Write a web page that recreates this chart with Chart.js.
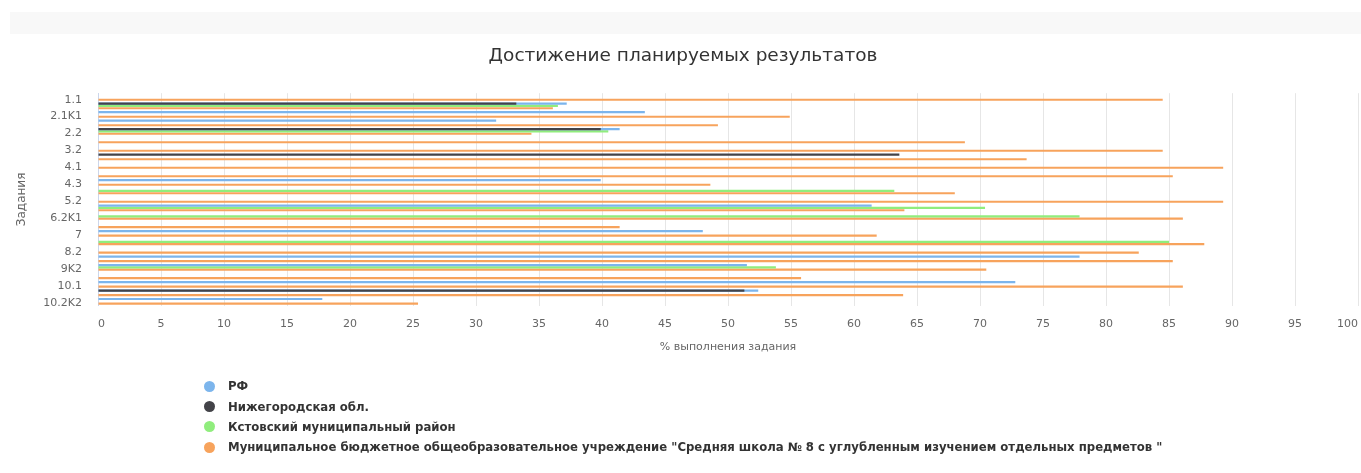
<!DOCTYPE html>
<html><head><meta charset="utf-8">
<script src="https://cdn.jsdelivr.net/npm/chart.js@4"></script>
<style>
html,body{margin:0;padding:0;background:#fff;}
#wrap{position:relative;width:1361px;height:473px;overflow:hidden;font-family:"DejaVu Sans",sans-serif;}
#topbar{position:absolute;left:10px;top:12px;width:1351px;height:22px;background:#f8f8f8;}
#c{position:absolute;left:0;top:0;}
#legend{position:absolute;left:204px;top:376px;}
.li{height:20.4px;font-size:11.7px;font-weight:bold;color:#333;white-space:nowrap;display:flex;align-items:center;}
.dot{width:11px;height:11px;border-radius:50%;margin-right:13px;flex:none;}
</style></head><body>
<div id="wrap"><div id="topbar"></div><canvas id="c" width="1361" height="473"></canvas><div id="legend"></div></div>
<script>
const chartTitle = 'Достижение планируемых результатов';
const xAxisTitle = '% выполнения задания';
const yAxisTitle = 'Задания';
const categories = ['1.1','1.2','2.1K1','2.1K2','2.2','3.1','3.2','3.3','4.1','4.2','4.3','5.1','5.2','6.1','6.2K1','6.2K2','7','8.1','8.2','9K1','9K2','9K3','10.1','10.2K1','10.2K2'];
const shownYLabels = ['1.1','2.1K1','2.2','3.2','4.1','4.3','5.2','6.2K1','7','8.2','9K2','10.1','10.2K2'];
const seriesNames = ['РФ','Нижегородская обл.','Кстовский муниципальный район','Муниципальное бюджетное общеобразовательное учреждение "Средняя школа № 8 с углубленным изучением отдельных предметов "'];
const seriesColors = ['#7cb5ec','#434348','#90ed7d','#f7a35c'];
const rfValues     = [null,37.2,43.4,31.6,41.4,null,null,null,null,null,39.9,null,null,61.4,null,null,48.0,null,null,77.9,51.5,null,72.8,52.4,17.8];
const nizhValues   = [null,33.2,null,null,39.9,null,null,63.6,null,null,null,null,null,null,null,null,null,null,null,null,null,null,null,51.3,null];
const kstovoValues = [null,36.5,null,null,40.5,null,null,null,null,null,null,63.2,null,70.4,77.9,null,null,85.0,null,null,53.8,null,null,null,null];
const schoolValues = [84.5,36.1,54.9,49.2,34.4,68.8,84.5,73.7,89.3,85.3,48.6,68.0,89.3,64.0,86.1,41.4,61.8,87.8,82.6,85.3,70.5,55.8,86.1,63.9,25.4];
const xMin = 0, xMax = 100, xStep = 5;

Chart.defaults.font.family = '"DejaVu Sans", sans-serif';
const F = '"DejaVu Sans", sans-serif';
const bar = (i, data, stack, order) => ({
  label: seriesNames[i], data, backgroundColor: seriesColors[i], borderWidth: 0,
  stack, order, categoryPercentage: 0.82, barPercentage: 0.94
});
const chart = new Chart(document.getElementById('c'), {
  type: 'bar',
  data: {
    labels: categories,
    datasets: [
      bar(0, rfValues, 'a', 2),
      bar(1, nizhValues, 'a', 1),
      bar(2, kstovoValues, 'b', 3),
      bar(3, schoolValues, 'c', 4)
    ]
  },
  options: {
    indexAxis: 'y', responsive: false, animation: false, devicePixelRatio: 1,
    layout: { padding: { top: 0, right: 3, bottom: 115, left: 8 } },
    plugins: {
      legend: { display: false }, tooltip: { enabled: false },
      title: { display: true, text: chartTitle, color: '#333333',
        font: { size: 18.5, weight: 'normal', family: F }, padding: { top: 45, bottom: 26 } }
    },
    scales: {
      x: {
        type: 'linear', min: xMin, max: xMax, stacked: false,
        ticks: { stepSize: xStep, align: 'inner', padding: 12, color: '#666666', font: { size: 11, family: F } },
        grid: { color: '#e6e6e6', drawTicks: false },
        border: { display: false },
        title: { display: true, text: xAxisTitle, color: '#666666', font: { size: 11, family: F }, padding: { top: -2, bottom: 4 } },
        afterFit: (s) => { s.paddingLeft = 0; s.paddingRight = 0; }
      },
      y: {
        type: 'category',
        ticks: { autoSkip: false, labelOffset: 2.2, padding: 16, color: '#666666', font: { size: 11, family: F },
          callback: function (v, i) { const l = this.getLabelForValue(v); return shownYLabels.includes(l) ? l : ''; } },
        grid: { display: false, drawTicks: false },
        border: { display: true, color: '#ccd6eb' },
        title: { display: true, text: yAxisTitle, color: '#666666', font: { size: 12, family: F }, padding: { top: 7, bottom: 0 } },
        afterFit: (s) => { s.width = 90; }
      }
    }
  }
});
const lg = document.getElementById('legend');
chart.data.datasets.forEach((d) => {
  const row = document.createElement('div'); row.className = 'li';
  const dot = document.createElement('span'); dot.className = 'dot'; dot.style.background = d.backgroundColor;
  const t = document.createElement('span'); t.textContent = d.label;
  row.appendChild(dot); row.appendChild(t); lg.appendChild(row);
});
</script>
</body></html>
